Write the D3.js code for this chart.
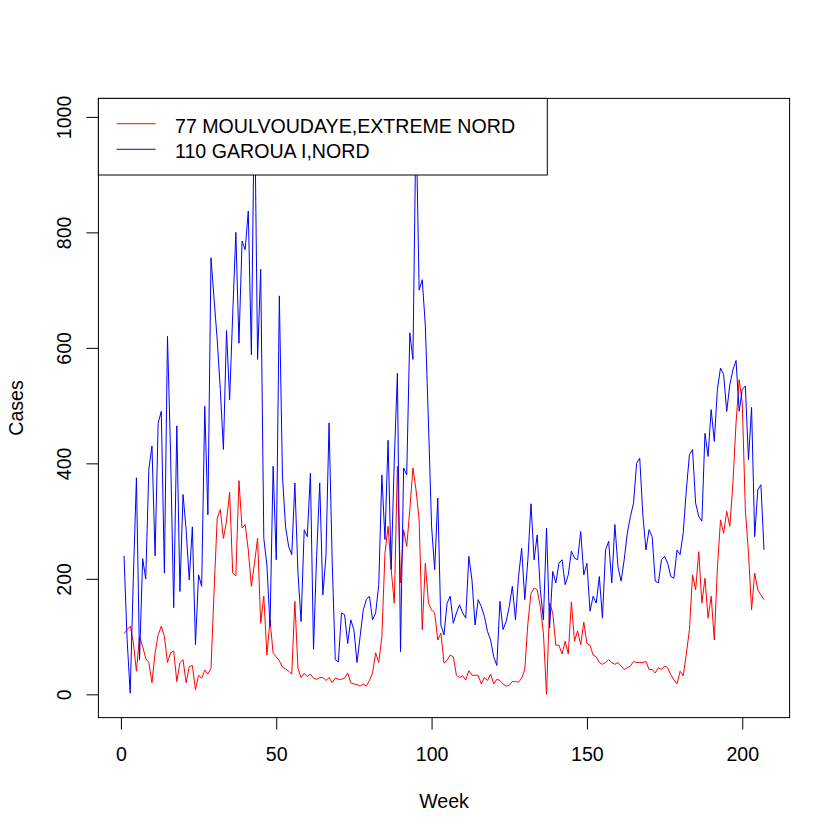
<!DOCTYPE html>
<html>
<head>
<meta charset="utf-8">
<script src="https://cdn.jsdelivr.net/npm/d3@7"></script>
<style>
  html, body { margin: 0; padding: 0; background: #fff; }
  svg { display: block; }
  text { font-family: "Liberation Sans", Arial, sans-serif; }
</style>
</head>
<body>
<script>
// ---- data ----
const seriesNames = ["77 MOULVOUDAYE,EXTREME NORD", "110 GAROUA I,NORD"];
const seriesColors = ["#ff0000", "#0000ff"];

const moulvoudaye = [
  105,112,118,90,40,100,83,62,55,20,
  72,103,118,100,55,72,75,22,55,60,
  20,48,50,8,33,28,42,35,45,180,
  305,320,270,300,350,210,205,370,288,294,
  250,187,227,270,123,170,68,129,71,65,
  58,47,44,40,35,161,45,29,36,31,
  35,28,26,29,29,24,29,20,28,26,
  26,28,37,20,18,17,14,18,14,24,
  37,72,55,100,245,291,216,158,395,193,
  285,256,320,392,354,302,112,227,158,146,
  141,94,106,54,59,68,65,33,29,32,
  25,41,33,33,33,18,29,24,35,18,
  26,24,18,14,16,22,22,21,28,43,
  123,175,184,181,152,106,0,158,141,85,
  85,70,92,70,160,92,110,86,125,88,
  85,68,65,55,52,55,60,55,52,55,
  49,43,46,49,57,55,55,55,57,43,
  43,37,46,43,49,46,34,25,18,40,
  32,70,112,207,181,247,158,201,132,170,
  94,219,302,279,317,291,366,470,545,505,
  320,245,146,210,181,172,164
];

const garoua = [
  240,95,2,200,375,60,235,200,390,430,
  240,470,490,210,620,415,150,465,178,346,
  285,198,290,86,207,187,499,311,756,684,
  614,528,424,630,510,660,800,608,785,770,
  837,588,1050,580,736,270,224,118,395,233,
  690,378,290,256,242,366,210,126,285,273,
  383,78,239,366,172,239,470,233,60,56,
  141,138,88,129,112,55,100,146,164,170,
  129,141,190,380,268,440,216,406,556,74,
  392,380,626,580,1000,700,718,638,470,291,
  216,340,120,103,158,170,123,141,155,141,
  132,239,198,120,164,152,135,109,94,65,
  50,161,112,126,152,187,129,204,253,164,
  233,330,233,276,181,129,288,115,213,193,
  227,233,190,207,248,236,233,282,207,227,
  144,170,158,204,132,250,265,193,294,221,
  196,233,279,308,331,400,409,311,250,285,
  273,196,193,233,239,227,204,201,250,242,
  280,354,415,424,331,308,300,452,412,493,
  438,528,565,554,490,536,562,578,490,528,
  534,406,497,273,354,363,250
];

const xTicks = [0, 50, 100, 150, 200];
const yTicks = [0, 200, 400, 600, 800, 1000];
const xLabel = "Week";
const yLabel = "Cases";

// ---- layout ----
const W = 840, H = 840;
const plot = { left: 98.4, right: 789.6, top: 98.4, bottom: 717.6 };
const FS = 19.6;

const weeks = d3.range(1, moulvoudaye.length + 1);
const series = [moulvoudaye, garoua];

const x = d3.scaleLinear().domain([-7.24, 215.24]).range([plot.left, plot.right]);
const y = d3.scaleLinear().domain([-40.3, 1032]).range([plot.bottom, plot.top]);

const svg = d3.select("body").append("svg")
  .attr("width", W).attr("height", H)
  .attr("viewBox", `0 0 ${W} ${H}`);

svg.append("rect").attr("width", W).attr("height", H).attr("fill", "#fff");

svg.append("clipPath").attr("id", "plotclip")
  .append("rect")
  .attr("x", plot.left).attr("y", plot.top)
  .attr("width", plot.right - plot.left).attr("height", plot.bottom - plot.top);

// lines
const line = d3.line()
  .x((d, i) => x(weeks[i]))
  .y(d => y(d));

const g = svg.append("g").attr("clip-path", "url(#plotclip)");
series.forEach((s, k) => {
  g.append("path")
    .datum(s)
    .attr("d", line)
    .attr("fill", "none")
    .attr("stroke", seriesColors[k])
    .attr("stroke-width", 1)
    .attr("stroke-linejoin", "round");
});

// x axis
const xAxis = svg.append("g")
  .attr("transform", `translate(0,${plot.bottom})`)
  .call(d3.axisBottom(x).tickValues(xTicks).tickSize(12).tickFormat(d3.format("d")));
xAxis.select(".domain").remove();
xAxis.selectAll(".tick line").attr("stroke", "#000");
xAxis.selectAll(".tick text")
  .attr("y", 43.4).attr("dy", null)
  .attr("fill", "#000")
  .style("font-size", FS + "px")
  .style("font-family", '"Liberation Sans", Arial, sans-serif');

// y axis
const yAxis = svg.append("g")
  .attr("transform", `translate(${plot.left},0)`)
  .call(d3.axisLeft(y).tickValues(yTicks).tickSize(12).tickFormat(d3.format("d")));
yAxis.select(".domain").remove();
yAxis.selectAll(".tick line").attr("stroke", "#000");
yAxis.selectAll(".tick text")
  .attr("transform", "rotate(-90)")
  .attr("x", 0).attr("y", -27.7).attr("dy", null)
  .attr("text-anchor", "middle")
  .attr("fill", "#000")
  .style("font-size", FS + "px")
  .style("font-family", '"Liberation Sans", Arial, sans-serif');

// box
svg.append("rect")
  .attr("x", plot.left).attr("y", plot.top)
  .attr("width", plot.right - plot.left).attr("height", plot.bottom - plot.top)
  .attr("fill", "none").attr("stroke", "#000").attr("stroke-width", 1);

// axis titles
svg.append("text")
  .attr("x", (plot.left + plot.right) / 2).attr("y", 808)
  .attr("text-anchor", "middle")
  .style("font-size", FS + "px")
  .text(xLabel);

svg.append("text")
  .attr("transform", `translate(22.7,${(plot.top + plot.bottom) / 2}) rotate(-90)`)
  .attr("text-anchor", "middle")
  .style("font-size", FS + "px")
  .text(yLabel);

// legend
const leg = svg.append("g");
leg.append("rect")
  .attr("x", plot.left).attr("y", plot.top)
  .attr("width", 547.3 - plot.left).attr("height", 175 - plot.top)
  .attr("fill", "#fff").attr("stroke", "#000").attr("stroke-width", 1);
seriesNames.forEach((name, k) => {
  const ly = 123.7 + k * 25.6;
  leg.append("line")
    .attr("x1", 116.7).attr("x2", 155.7)
    .attr("y1", ly).attr("y2", ly)
    .attr("stroke", seriesColors[k]).attr("stroke-width", 1);
  leg.append("text")
    .attr("x", 175).attr("y", 133.3 + k * 24.4)
    .style("font-size", FS + "px")
    .text(name);
});
</script>
</body>
</html>
